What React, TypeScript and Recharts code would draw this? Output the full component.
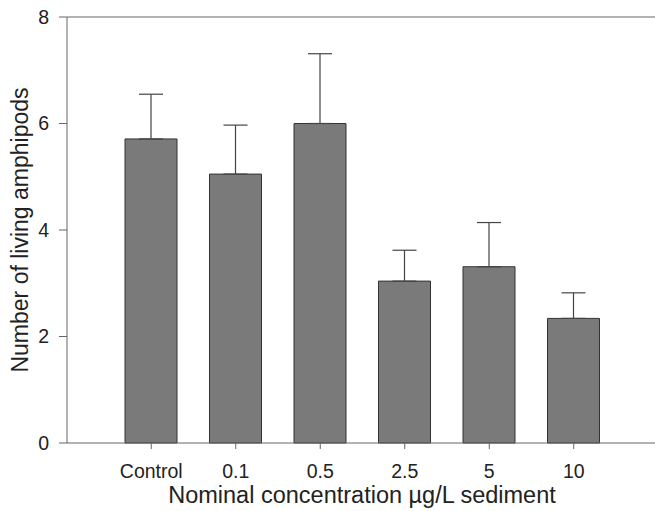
import React from "react";
import { BarChart, Bar, XAxis, YAxis, ErrorBar, ReferenceLine, Label } from "recharts";

const categories = ["Control", "0.1", "0.5", "2.5", "5", "10"];
const means = [5.71, 5.05, 6.0, 3.04, 3.31, 2.34];
const sdUpper = [0.84, 0.92, 1.31, 0.58, 0.83, 0.48];
const yTicks = [0, 2, 4, 6, 8];

const data = categories.map((c, i) => ({
  name: c,
  value: means[i],
  err: [0, sdUpper[i]],
}));

const FONT = "Arial, 'Liberation Sans', sans-serif";
const AXIS = "#666";

export default function App() {
  return (
    <div style={{ position: "absolute", left: 0, top: 0, width: 655, height: 511, overflow: "hidden", background: "#fff" }}>
      <BarChart
        width={667}
        height={511}
        data={data}
        margin={{ top: 17, right: 9, bottom: 0, left: 0 }}
        barCategoryGap={0}
      >
        <XAxis
          dataKey="name"
          height={68}
          padding={{ left: 42, right: 42 }}
          stroke={AXIS}
          tickSize={6}
          tickMargin={15}
          tick={{ fill: "#222", fontSize: 19.5, fontFamily: FONT }}
          tickLine={{ stroke: AXIS }}
        >
          <Label
            content={() => (
              <text x={362} y={503} textAnchor="middle" fontSize={23.5} fontFamily={FONT} fill="#222">
                Nominal concentration µg/L sediment
              </text>
            )}
          />
        </XAxis>
        <YAxis
          width={67}
          domain={[0, 8]}
          ticks={yTicks}
          stroke={AXIS}
          tickSize={8}
          tickMargin={10}
          tick={{ fill: "#222", fontSize: 19.5, fontFamily: FONT }}
          tickLine={{ stroke: AXIS }}
          interval={0}
        >
          <Label
            content={() => (
              <text x={28} y={230} transform="rotate(-90 28 230)" textAnchor="middle" fontSize={23} fontFamily={FONT} fill="#222">
                Number of living amphipods
              </text>
            )}
          />
        </YAxis>
        <ReferenceLine y={8} stroke={AXIS} />
        <Bar dataKey="value" fill="#7a7a7a" stroke="#333" strokeWidth={1} barSize={52} isAnimationActive={false}>
          <ErrorBar dataKey="err" direction="y" width={12} stroke="#444" strokeWidth={1.2} />
        </Bar>
      </BarChart>
    </div>
  );
}
